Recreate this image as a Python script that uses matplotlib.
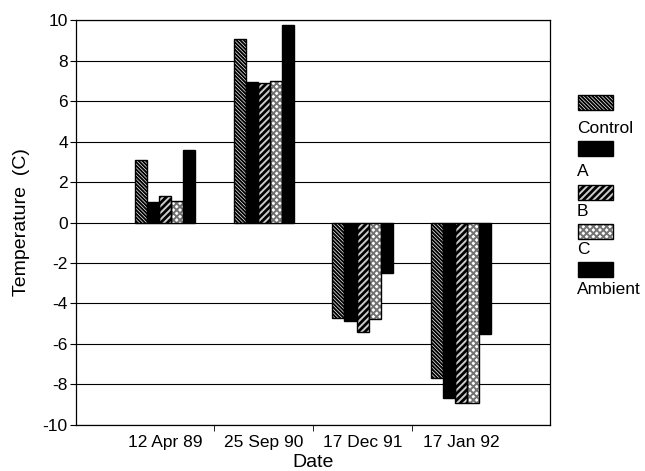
import numpy as np
import matplotlib
matplotlib.use('Agg')
import matplotlib.pyplot as plt
from matplotlib.patches import Rectangle

plt.rcParams['font.family'] = ['Liberation Sans', 'DejaVu Sans']
plt.rcParams['hatch.linewidth'] = 1.4
plt.rcParams['axes.unicode_minus'] = False

dates = ['12 Apr 89', '25 Sep 90', '17 Dec 91', '17 Jan 92']
series = ['Control', 'A', 'B', 'C', 'Ambient']
control = [3.1, 9.05, -4.7, -7.7]
a_vals = [1.0, 6.95, -4.85, -8.65]
b_vals = [1.3, 6.9, -5.4, -8.9]
c_vals = [1.05, 7.0, -4.75, -8.9]
ambient = [3.6, 9.75, -2.5, -5.5]
values = [control, a_vals, b_vals, c_vals, ambient]

# fill, hatch colour, hatch
styles = [
    ('white', 'black', '\\' * 9),
    ('black', 'black', None),
    ('black', '0.8', '/////'),
    ('white', '0.45', 'xxxxx'),
    ('black', 'black', None),
]

fig = plt.figure(figsize=(6.45, 4.71), dpi=100)
ax = fig.add_axes([0.118, 0.098, 0.735, 0.859])

x = np.arange(1, len(dates) + 1)
w = 0.122
for i, vals in enumerate(values):
    fc, hc, hatch = styles[i]
    ax.bar(x + (i - 2) * w, vals, w, facecolor=fc, hatch=hatch,
           edgecolor=hc, linewidth=0, zorder=3)
    ax.bar(x + (i - 2) * w, vals, w, facecolor='none', edgecolor='black',
           linewidth=1.0, zorder=4)

ax.set_xlim(0.1, 4.9)
ax.set_ylim(-10, 10)
ax.set_yticks(np.arange(-10, 11, 2))
ax.yaxis.grid(True, color='black', linewidth=0.8)
ax.set_axisbelow(True)
ax.set_xticks(x)
ax.set_xticklabels(dates, fontsize=12.5)
ax.tick_params(axis='x', length=0, pad=7)
ax.set_xticks([1.5, 2.5, 3.5], minor=True)
ax.tick_params(axis='x', which='minor', length=4, direction='out')
ax.tick_params(axis='y', labelsize=12.5, length=4, direction='out', pad=2)
for sp in ax.spines.values():
    sp.set_linewidth(0.9)
ax.set_xlabel('Date', fontsize=14, labelpad=3)
ax.set_ylabel('Temperature  (C)', fontsize=14, labelpad=9)

# legend on the right
W, H = 645, 471
patch_top = [95, 141, 185, 224, 262]
label_y = [129, 172, 212, 250, 289]
for i, name in enumerate(series):
    fc, hc, hatch = styles[i]
    y0 = 1 - (patch_top[i] + 15) / H
    fig.patches.append(Rectangle((578 / W, y0), 35 / W, 15 / H, transform=fig.transFigure,
                                 facecolor=fc, hatch=hatch, edgecolor=hc, linewidth=0))
    fig.patches.append(Rectangle((578 / W, y0), 35 / W, 15 / H, transform=fig.transFigure,
                                 facecolor='none', edgecolor='black', linewidth=1.0))
    fig.text(577 / W, 1 - label_y[i] / H, name, fontsize=12.5, va='center', ha='left')

fig.savefig('out.png', dpi=100)
